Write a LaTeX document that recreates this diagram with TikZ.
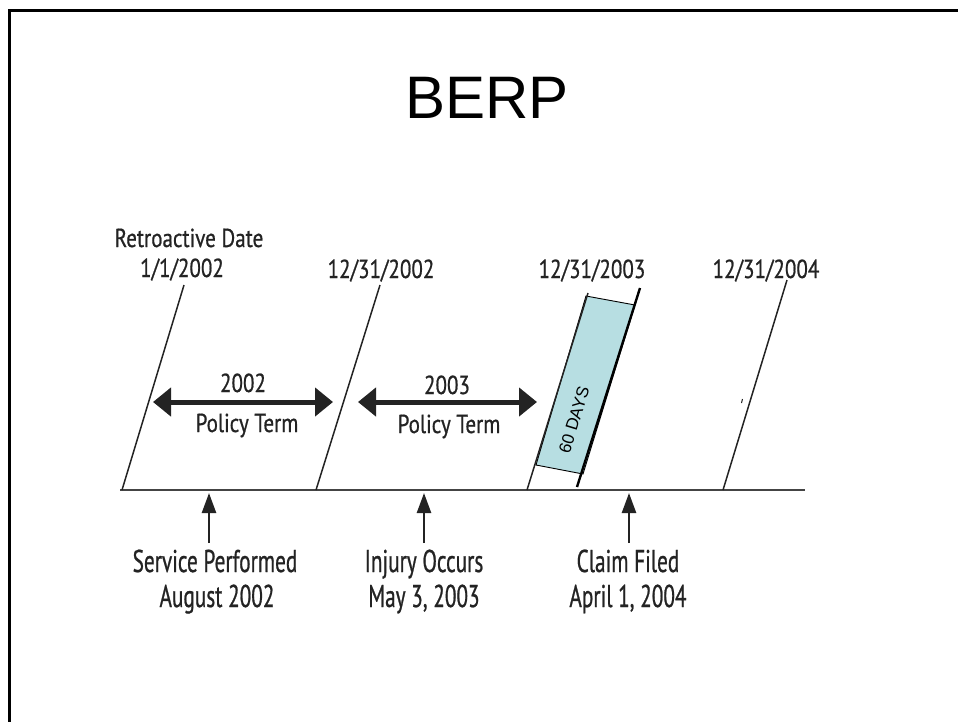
\documentclass[tikz,border=0pt]{standalone}
\usepackage{fontspec}
\setmainfont{Liberation Sans}
\newfontfamily\toplabelfont[FakeStretch=0.81,FakeBold=0.7]{PT Sans}
\newfontfamily\botlabelfont[FakeStretch=0.675,FakeBold=0.7]{PT Sans}
\usetikzlibrary{arrows.meta}
\definecolor{inkgray}{HTML}{232323}
\definecolor{daysfill}{HTML}{B7DEE2}
\tikzset{
  lbl/.style={font=\toplabelfont\fontsize{26}{26}\selectfont, text=inkgray, inner sep=0pt, anchor=base},
  biglbl/.style={font=\botlabelfont\fontsize{31.5}{31.5}\selectfont, text=inkgray, inner sep=0pt, anchor=base},
  dateline/.style={line width=1.5pt, draw=inkgray},
  axisline/.style={line width=2.6pt, draw=inkgray!85},
  term/.style={line width=5pt, draw=inkgray,
    {Triangle[length=18pt,width=28pt]}-{Triangle[length=18pt,width=28pt]}},
  event/.style={line width=2.5pt, draw=inkgray, -{Triangle[length=20pt,width=14pt]}},
}
\begin{document}
\begin{tikzpicture}[x=1pt,y=-1pt]
\useasboundingbox (0,0) rectangle (958,721);
\clip (0,0) rectangle (958,721);

% slide frame
\draw[line width=3pt] (9.5,760) -- (9.5,10) -- (990,10);

% title
\node[font=\fontsize{60}{60}\selectfont, anchor=base, inner sep=0pt] (title) at (487,118) {BERP};

% 60-day window (drawn first so the date lines lie on top)
\coordinate (d1) at (586,296);
\coordinate (d2) at (635,305);
\coordinate (d3) at (583,474);
\coordinate (d4) at (536,465);
\draw[fill=daysfill, line width=0.9pt] (d1) -- (d2) -- (d3) -- (d4) -- cycle;
\node[font=\fontsize{17}{17}\selectfont, rotate=73, inner sep=0pt] (days) at (574,420) {60 DAYS};

% time axis
\coordinate (axL) at (120,490);
\coordinate (axR) at (805,490);
\draw[axisline] (axL) -- (axR);

% date boundaries
\coordinate (b1) at (122,490); \coordinate (t1) at (184,285);
\coordinate (b2) at (316,490); \coordinate (t2) at (380,285);
\coordinate (b3) at (527,490); \coordinate (t3) at (588,293);
\coordinate (b3x) at (577,487); \coordinate (t3x) at (640,288);
\coordinate (b4) at (723,490); \coordinate (t4) at (787,280);
\draw[dateline] (b1) -- (t1);
\draw[dateline] (b2) -- (t2);
\draw[dateline] (b3) -- (t3);
\draw[line width=2.4pt] (b3x) -- (t3x);
\draw[dateline] (b4) -- (t4);
\draw[line width=1pt, draw=inkgray] (742.5,399) -- (741.5,403);

% date labels
\node[lbl] (retro) at (189,247) {Retroactive Date};
\node[lbl] (d2002a) at (182,277) {1/1/2002};
\node[lbl] (d2002b) at (381,278) {12/31/2002};
\node[lbl] (d2003) at (592,278) {12/31/2003};
\node[lbl] (d2004) at (766,278) {12/31/2004};

% policy terms
\coordinate (p1L) at (153,402); \coordinate (p1R) at (333,402);
\coordinate (p2L) at (358,402); \coordinate (p2R) at (537,402);
\draw[term] (p1L) -- (p1R);
\draw[term] (p2L) -- (p2R);
\node[lbl] (y2002) at (243,392) {2002};
\node[lbl] (pt2002) at (247,432) {Policy Term};
\node[lbl] (y2003) at (447,394) {2003};
\node[lbl] (pt2003) at (449,433) {Policy Term};

% events
\coordinate (e1) at (209,543); \coordinate (e1t) at (209,493);
\coordinate (e2) at (424,543); \coordinate (e2t) at (424,493);
\coordinate (e3) at (629,543); \coordinate (e3t) at (629,493);
\draw[event] (e1) -- (e1t);
\draw[event] (e2) -- (e2t);
\draw[event] (e3) -- (e3t);
\node[biglbl] (svc) at (215,572) {Service Performed};
\node[biglbl] (svcd) at (217,607) {August 2002};
\node[biglbl] (inj) at (424,572) {Injury Occurs};
\node[biglbl] (injd) at (424,607) {May 3, 2003};
\node[biglbl] (clm) at (628,572) {Claim Filed};
\node[biglbl] (clmd) at (628,607) {April 1, 2004};
\end{tikzpicture}
\end{document}
